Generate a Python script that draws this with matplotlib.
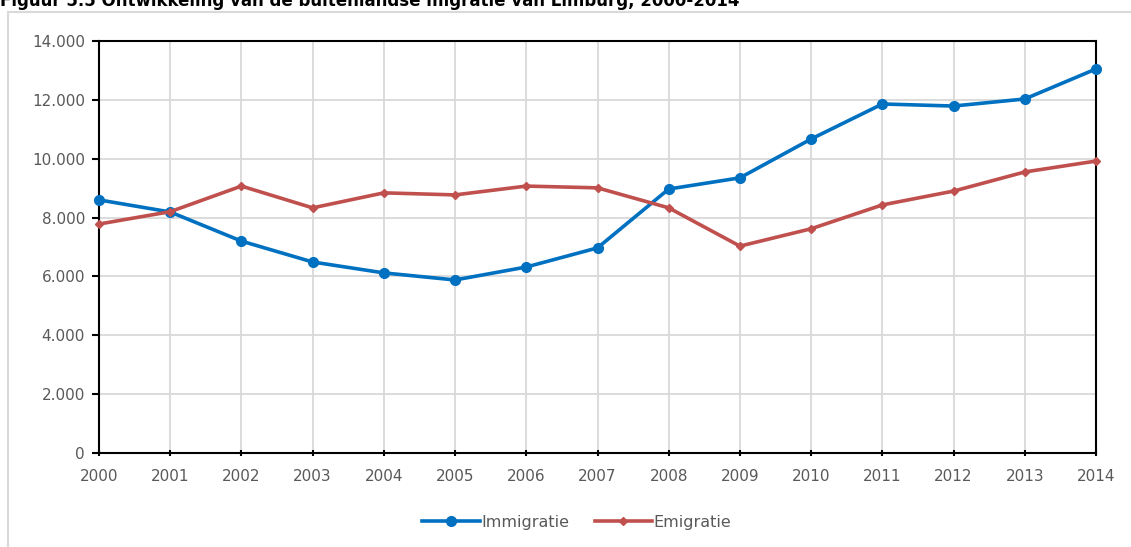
import matplotlib.pyplot as plt
from matplotlib.patches import Rectangle
from matplotlib.ticker import FuncFormatter

years = list(range(2000, 2015))
immigratie = [8600, 8190, 7200, 6490, 6120, 5880, 6320, 6970, 8970, 9350, 10670, 11860, 11790, 12030, 13050]
emigratie = [7780, 8200, 9070, 8330, 8840, 8770, 9070, 9010, 8330, 7030, 7620, 8430, 8900, 9550, 9920]

W, H = 1131, 547
fig = plt.figure(figsize=(W / 100, H / 100), dpi=100)

# outer chart border (cut off on the right/bottom)
fig.patches.append(Rectangle((8 / W, -0.1), 1.2, 1 - 12 / H + 0.1, transform=fig.transFigure,
                             fill=False, edgecolor='#d9d9d9', linewidth=1.5))

# title is cropped at the top edge in the source picture
fig.text(0, 1 - 1 / H, 'Figuur 5.5 Ontwikkeling van de buitenlandse migratie van Limburg, 2000-2014',
         fontsize=12, fontweight='bold', ha='left', va='center', color='black')

ax = fig.add_axes([99 / W, 1 - 453 / H, (1096 - 99) / W, (453 - 41) / H])

ax.plot(years, immigratie, color='#0070C0', linewidth=2.6, marker='o', markersize=7,
        label='Immigratie', zorder=3, clip_on=False)
ax.plot(years, emigratie, color='#C0504D', linewidth=2.6, marker='D', markersize=4.5,
        label='Emigratie', zorder=3, clip_on=False)

ax.set_xlim(2000, 2014)
ax.set_ylim(0, 14000)
ax.set_xticks(years)
ax.set_yticks(range(0, 14001, 2000))
ax.yaxis.set_major_formatter(FuncFormatter(lambda v, p: f'{int(v):,}'.replace(',', '.')))
ax.grid(True, color='#d9d9d9', linewidth=1.3)
ax.set_axisbelow(True)
for s in ax.spines.values():
    s.set_color('black')
    s.set_linewidth(1.5)
ax.tick_params(axis='both', colors='black', labelcolor='#595959', labelsize=11,
               length=5, width=1.5)
ax.tick_params(axis='x', direction='inout', pad=9)
ax.tick_params(axis='y', direction='out', pad=5)

fig.legend(loc='center', bbox_to_anchor=(0.51, 1 - 522 / H), ncol=2, frameon=False,
           fontsize=11.5, handlelength=3.6, handletextpad=0.1, columnspacing=1.6,
           labelcolor='#595959')

fig.savefig('out.png', dpi=100)
